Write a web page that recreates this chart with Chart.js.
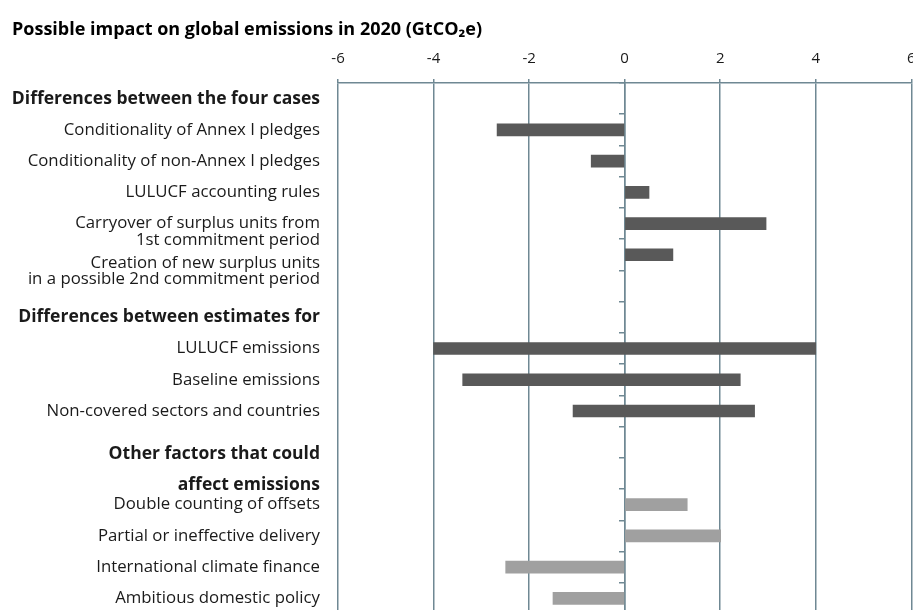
<!DOCTYPE html>
<html><head><meta charset="utf-8">
<script src="https://cdn.jsdelivr.net/npm/chart.js@4/dist/chart.umd.min.js"></script>
<style>html,body{margin:0;padding:0;background:#fff;overflow:hidden;width:913px;height:610px}canvas{display:block}</style>
</head><body>
<canvas id="c" width="913" height="614"></canvas>
<script>
const chartTitle = 'Possible impact on global emissions in 2020 (GtCO\u2082e)';
const categories = [
  'Differences between the four cases',
  'Conditionality of Annex I pledges',
  'Conditionality of non-Annex I pledges',
  'LULUCF accounting rules',
  ['', 'Carryover of surplus units from', '1st commitment period'],
  ['', '', 'Creation of new surplus units', 'in a possible 2nd commitment period'],
  '',
  'Differences between estimates for',
  'LULUCF emissions',
  'Baseline emissions',
  'Non-covered sectors and countries',
  ['', 'Other factors that could'],
  ['', 'affect emissions'],
  'Double counting of offsets',
  'Partial or ineffective delivery',
  'International climate finance',
  'Ambitious domestic policy'
];
const headings = ['Differences between the four cases', 'Differences between estimates for', 'Other factors that could', 'affect emissions'];
const xMin = -6, xMax = 6, xStep = 2;
// dark bars: differences between cases and estimates (low, high)
const darkLow  = [null, -2.67, -0.70, 0, 0, 0, null, null, -4.0, -3.39, -1.08, null, null, null, null, null, null];
const darkHigh = [null, 0, 0, 0.51, 2.96, 1.01, null, null, 4.0, 2.42, 2.72, null, null, null, null, null, null];
// light bars: other factors (low, high)
const lightLow  = [null, null, null, null, null, null, null, null, null, null, null, null, null, 0, 0, -2.49, -1.50];
const lightHigh = [null, null, null, null, null, null, null, null, null, null, null, null, null, 1.31, 2.01, 0, 0];

const pair = (lo, hi) => lo.map((v, i) => (v === null ? null : [v, hi[i]]));
const FONT = '"Open Sans", Lato, sans-serif';
const GRID = '#6f8893';
const isHeading = (lbl) => {
  const arr = Array.isArray(lbl) ? lbl : [lbl];
  return arr.some(t => headings.includes(t));
};

new Chart(document.getElementById('c'), {
  type: 'bar',
  data: {
    labels: categories,
    datasets: [
      { data: pair(darkLow, darkHigh), backgroundColor: '#595959', barThickness: 12, grouped: false },
      { data: pair(lightLow, lightHigh), backgroundColor: '#a0a0a0', barThickness: 12, grouped: false }
    ]
  },
  options: {
    indexAxis: 'y',
    responsive: false,
    animation: false,
    events: [],
    layout: { padding: { left: 12, right: 1.7, top: 0, bottom: 0 } },
    plugins: {
      legend: { display: false },
      tooltip: { enabled: false },
      title: {
        display: true, text: chartTitle, align: 'start', color: '#000',
        font: { family: FONT, size: 18, weight: 'bold', lineHeight: 1.2 },
        padding: { top: 19, bottom: 9.4 }
      }
    },
    scales: {
      x: {
        position: 'top', min: xMin, max: xMax,
        ticks: { stepSize: xStep, color: '#1a1a1a', padding: 11, font: { family: FONT, size: 15 } },
        grid: { color: GRID, lineWidth: 1.5, drawTicks: true, tickLength: 4, tickColor: GRID },
        border: { display: true, color: GRID, width: 1.5 },
        afterFit: s => { s.height = 33; s.paddingLeft = 0; s.paddingRight = 0; }
      },
      y: {
        type: 'category', position: 'left', offset: true,
        ticks: {
          autoSkip: false, padding: 18, color: '#1a1a1a',
          font: ctx => {
            const lbl = categories[ctx.index];
            return isHeading(lbl)
              ? { family: FONT, size: 17.5, weight: 'bold', lineHeight: '24px' }
              : { family: FONT, size: 16.8, weight: 'normal', lineHeight: '16.5px' };
          }
        },
        grid: { display: false, drawTicks: false },
        border: { display: false },
        afterFit: s => { s.width = 326; s.paddingTop = 0; s.paddingBottom = 0; }
      },
      y2: {
        type: 'category', position: { x: 0 }, offset: true,
        ticks: { display: false },
        grid: { offset: true, drawOnChartArea: false, drawTicks: true, tickLength: 5, color: GRID, lineWidth: 1.5 },
        border: { display: true, color: GRID, width: 1.5 }
      }
    }
  }
});
</script>
</body></html>
